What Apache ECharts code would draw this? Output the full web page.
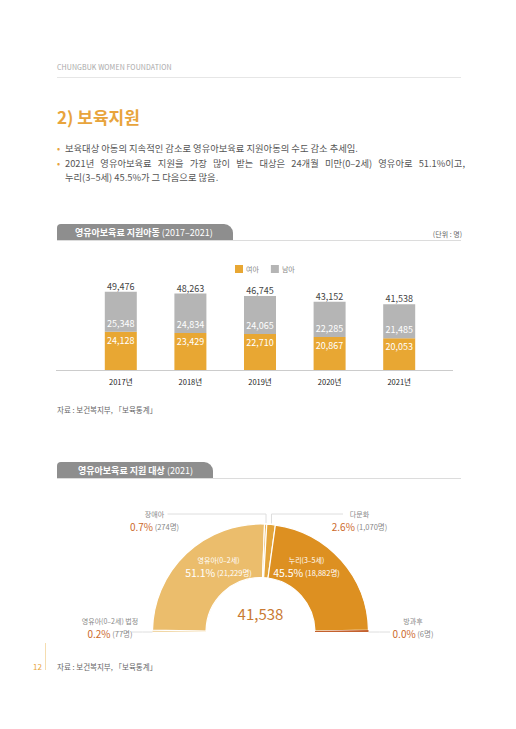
<!DOCTYPE html>
<html><head><meta charset="utf-8">
<script src="https://cdn.jsdelivr.net/npm/echarts@6/dist/echarts.min.js"></script>
<style>
html,body{margin:0;padding:0;background:#fff;}
body{width:516px;height:729px;position:relative;overflow:hidden;font-family:"Noto Sans CJK KR","Noto Sans",sans-serif;color:#555;}
#chart{position:absolute;left:0;top:0;width:516px;height:729px;z-index:0;}
.t{position:absolute;white-space:nowrap;z-index:1;}
.ln{position:absolute;z-index:1;}
.tab{position:absolute;z-index:1;background:#8e8e8e;color:#fff;height:17px;line-height:17px;font-size:9px;border-radius:4px 9px 0 0;box-sizing:border-box;white-space:nowrap;}
.tab b{font-weight:700;}
.bul{position:absolute;left:57px;font-size:9.3px;line-height:14px;color:#555;z-index:1;}
.bul .d{color:#E8A43C;position:absolute;left:0;}
.bul .x{position:absolute;left:8px;white-space:nowrap;}
</style></head><body>
<div id="chart"></div>

<div class="t" style="left:57px;top:62px;font-size:7px;line-height:10px;color:#a8a8a8;letter-spacing:0.1px;">CHUNGBUK WOMEN FOUNDATION</div>
<div class="ln" style="left:57px;top:77px;width:404px;height:1px;background:#e6e6e6;"></div>

<div class="t" style="left:57px;top:104px;font-size:17px;line-height:26px;font-weight:700;color:#E8A43C;">2) 보육지원</div>

<div class="bul" style="top:141px;width:408px;"><span class="d">•</span><span class="x">보육대상 아동의 지속적인 감소로 영유아보육료 지원아동의 수도 감소 추세임.</span></div>
<div class="bul" style="top:156px;width:408px;"><span class="d">•</span><span class="x" style="width:400px;text-align:justify;text-align-last:justify;display:block;">2021년 영유아보육료 지원을 가장 많이 받는 대상은 24개월 미만(0–2세) 영유아로 51.1%이고,</span></div>
<div class="bul" style="top:170px;width:408px;"><span class="x">누리(3–5세) 45.5%가 그 다음으로 많음.</span></div>

<div class="tab" style="left:57px;top:224px;width:176px;padding-left:18px;"><b>영유아보육료 지원아동</b> (2017–2021)</div>
<div class="ln" style="left:57px;top:240px;width:404px;height:1px;background:#dcdcdc;"></div>
<div class="t" style="right:54px;top:229px;font-size:7px;line-height:10px;color:#666;">(단위 : 명)</div>

<div class="ln" style="left:56px;top:370px;width:397px;height:1px;background:#cccccc;"></div>
<div class="t" style="left:57px;top:404px;font-size:7.5px;line-height:12px;color:#666;">자료 : 보건복지부, 「보육통계」</div>

<div class="tab" style="left:57px;top:462px;width:156px;padding-left:21px;"><b>영유아보육료 지원 대상</b> (2021)</div>
<div class="ln" style="left:57px;top:478px;width:404px;height:1px;background:#dcdcdc;"></div>

<div class="ln" style="left:45px;top:643px;width:1px;height:27px;background:#F5DDB0;"></div>
<div class="t" style="left:33px;top:661px;font-size:8px;line-height:12px;color:#E8A43C;">12</div>
<div class="t" style="left:57px;top:661px;font-size:7.5px;line-height:12px;color:#666;">자료 : 보건복지부, 「보육통계」</div>

<script>
// ---- data ----
const years = ['2017년', '2018년', '2019년', '2020년', '2021년'];
const girls = [24128, 23429, 22710, 20867, 20053];
const boys = [25348, 24834, 24065, 22285, 21485];
const totals = [49476, 48263, 46745, 43152, 41538];
const seriesNames = ['여아', '남아'];

const targetNames = ['영유아(0–2세) 법정', '영유아(0–2세)', '장애아', '다문화', '누리(3–5세)', '방과후'];
const targetCounts = [77, 21229, 274, 1070, 18882, 6];
const targetPcts = ['0.2', '51.1', '0.7', '2.6', '45.5', '0.0'];

// ---- style ----
const targetColors = ['#F1D7A6', '#EBBD6C', '#E8B255', '#E3A43A', '#DD9021', '#C4612E'];
const insideIdx = [1, 4];
const CX = 260.5, CY = 632, R0 = 54.5, R = 108;

const fmt = n => Number(n).toLocaleString('en-US');
const chart = echarts.init(document.getElementById('chart'), null, { renderer: 'svg' });

const totalCount = targetCounts.reduce((a, b) => a + b, 0);
// mid angles (deg) for label leader lines
const midAngles = [];
{
  let cum = 0;
  targetCounts.forEach(v => { midAngles.push(180 - (cum + v / 2) / totalCount * 180); cum += v; });
}

const labelPos = {
  0: { dx: -150.5, dy: -5 },
  1: { dx: -42, dy: -66 },
  2: { dx: -106, dy: -112 },
  3: { dx: 99, dy: -112 },
  4: { dx: 46, dy: -66 },
  5: { dx: 152.5, dy: -5 }
};

function leader(i) {
  const a = midAngles[i] * Math.PI / 180;
  const mx = CX + R * Math.cos(a), my = CY - R * Math.sin(a) - 1;
  if (i === 0) return [[CX - 128.5, CY], [CX - 118, CY], [CX - R, CY]];
  if (i === 5) return [[CX + 129.5, CY], [CX + 119, CY], [CX + R, CY]];
  if (i === 2) return [[CX - 93, CY - 118], [mx, CY - 118], [mx, my]];
  if (i === 3) return [[CX + 82.5, CY - 118], [mx, CY - 118], [mx, my]];
  return null;
}

const outRich = {
  n: { fontSize: 7, color: '#888', lineHeight: 12, align: 'center' },
  p: { fontSize: 10, color: '#CC6A2C', lineHeight: 13 },
  c: { fontSize: 7.5, color: '#888', lineHeight: 13 }
};
const inRich = {
  n: { fontSize: 7, color: '#fff', lineHeight: 12, align: 'center' },
  p: { fontSize: 10.5, color: '#fff', lineHeight: 13 },
  c: { fontSize: 7.5, color: '#fff', lineHeight: 13 }
};

const pieData = targetNames.map((n, i) => {
  const inside = insideIdx.includes(i);
  return {
    name: n,
    value: targetCounts[i],
    itemStyle: { color: targetColors[i], borderWidth: (i === 0 || i === 5) ? 0 : 1.2 },
    label: { position: inside ? 'inside' : 'outside', rich: inside ? inRich : outRich },
    labelLine: { show: !inside }
  };
});

const option = {
  animation: false,
  textStyle: { fontFamily: '"Noto Sans CJK KR", "Noto Sans", sans-serif' },
  legend: {
    data: seriesNames, left: 230, top: 260, itemWidth: 8, itemHeight: 8, itemGap: 12, icon: 'rect',
    textStyle: { fontSize: 7, color: '#888', padding: [0, 0, 0, -2] }, selectedMode: false
  },
  grid: { left: 86, width: 348, top: 275, height: 95 },
  xAxis: {
    type: 'category', data: years,
    axisLine: { show: false }, axisTick: { show: false },
    axisLabel: { fontSize: 7.5, color: '#222', margin: 8 }
  },
  yAxis: { type: 'value', min: 0, max: 60000, show: false, splitLine: { show: false } },
  graphic: [{
    type: 'text', x: CX, y: CY - 19, silent: true,
    style: { text: fmt(totalCount), fontSize: 15, fontWeight: 'normal', fill: '#C97A33', align: 'center', verticalAlign: 'middle', fontFamily: '"Noto Sans CJK KR", sans-serif' }
  }],
  series: [
    {
      name: seriesNames[0], type: 'bar', stack: 'a', barWidth: 32, data: girls,
      itemStyle: { color: '#E8A733' },
      label: { show: true, position: 'insideTop', distance: 4, color: '#fff', fontSize: 9, formatter: p => fmt(p.value) }
    },
    {
      name: seriesNames[1], type: 'bar', stack: 'a', barWidth: 32, data: boys,
      itemStyle: { color: '#B5B5B5' },
      label: { show: true, position: 'insideBottom', distance: 4, color: '#fff', fontSize: 9, formatter: p => fmt(p.value) }
    },
    {
      name: '합계', type: 'bar', stack: 'a', barWidth: 32, data: totals.map(() => 0), silent: true,
      itemStyle: { color: 'rgba(0,0,0,0)' },
      label: { show: true, position: 'top', distance: 1, color: '#444', fontSize: 9, formatter: p => fmt(totals[p.dataIndex]) }
    },
    {
      type: 'pie', center: [CX, CY], radius: [R0, R], startAngle: 180, endAngle: 0, clockwise: true,
      minAngle: 1, avoidLabelOverlap: false, silent: true,
      itemStyle: { borderColor: '#fff' },
      label: {
        show: true,
        formatter: p => '{n|' + p.name + '}\n{p|' + targetPcts[p.dataIndex] + '%}{c| (' + fmt(p.value) + '명)}'
      },
      labelLine: { show: true, length: 5, length2: 5, lineStyle: { color: '#dedede', width: 1 } },
      labelLayout: params => {
        const i = params.dataIndex;
        const lp = labelPos[i];
        const res = { x: CX + lp.dx, y: CY + lp.dy, align: 'center', verticalAlign: 'middle' };
        const pts = leader(i);
        if (pts) res.labelLinePoints = pts;
        return res;
      },
      data: pieData
    }
  ]
};
chart.setOption(option);
</script>
</body></html>
